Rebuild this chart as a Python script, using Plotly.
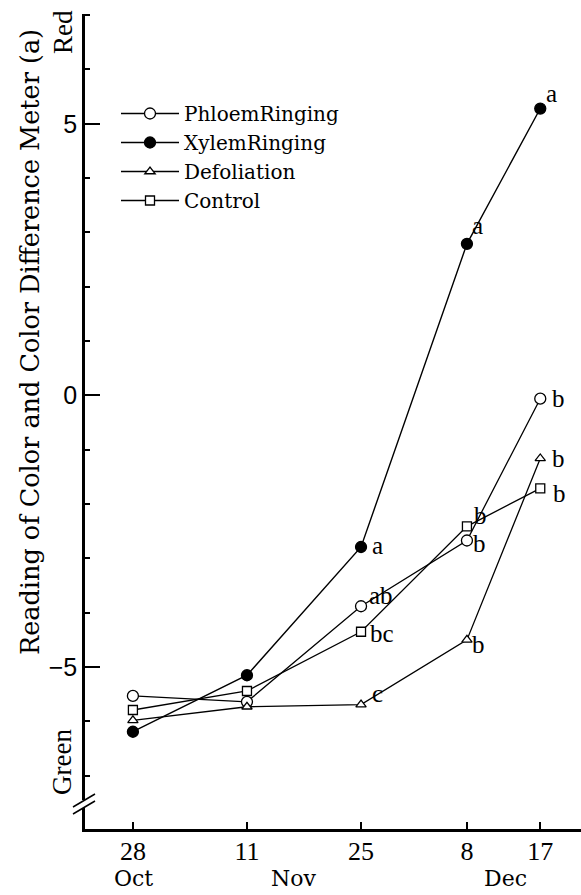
import plotly.graph_objects as go

# ---------------- data ----------------
days = [0, 14, 28, 41, 50]                 # days after 28 Oct
day_ticks = ["28", "11", "25", "8", "17"]
months = ["Oct", "Nov", "Dec"]

phloem = [-5.53, -5.64, -3.88, -2.67, -0.06]
xylem = [-6.19, -5.15, -2.79, 2.79, 5.28]
defoliation = [-5.98, -5.73, -5.69, -4.50, -1.16]
control = [-5.79, -5.44, -4.35, -2.41, -1.71]

phloem_sig = [None, None, "ab", "b", "b"]
xylem_sig = [None, None, "a", "a", "a"]
defoliation_sig = [None, None, "c", "b", "b"]
control_sig = [None, None, "bc", "b", "b"]

# ---------------- styling ----------------
SERIF = "DejaVu Serif"
TIMES = "Liberation Serif"
SANS = "Liberation Sans"

W, H = 581, 895
ML, MR, MT, MB = 85, 0, 14, 66
PW, PH = W - ML - MR, H - MT - MB


def px(xp):
    return (xp - ML) / PW


def py(yp):
    return (H - MB - yp) / PH


series = [
    ("PhloemRinging", phloem, phloem_sig, "circle", "white", 11,
     [None, None, (20, 11), (13, -3), (18, 0)]),
    ("XylemRinging", xylem, xylem_sig, "circle", "black", 11,
     [None, None, (16, 2), (11, 18), (11, 15)]),
    ("Defoliation", defoliation, defoliation_sig, "triangle-up", "white", 9,
     [None, None, (16, 11), (12, -5), (18, 0)]),
    ("Control", control, control_sig, "square", "white", 9,
     [None, None, (21, -2), (14, 11), (19, -5)]),
]

fig = go.Figure()
annotations = []
for name, vals, sig, sym, fill, size, offs in series:
    fig.add_trace(go.Scatter(
        x=days, y=vals, name=name, mode="lines+markers",
        line=dict(color="black", width=1.4 if fill == "black" else 1.3),
        marker=dict(symbol=sym, size=size, color=fill,
                    line=dict(color="black", width=1.3)),
    ))
    for i, s in enumerate(sig):
        if s is None:
            continue
        dx, dy = offs[i]
        annotations.append(dict(
            x=days[i], y=vals[i], xref="x", yref="y", text=s,
            showarrow=False, xshift=dx, yshift=dy,
            xanchor="center", yanchor="middle",
            font=dict(family=TIMES, size=25, color="black"),
        ))

# axis side texts
annotations += [
    dict(text="Reading of Color and Color Difference Meter (a)", xref="paper", yref="paper",
         x=px(30), y=py(342), textangle=-90, showarrow=False,
         xanchor="center", yanchor="middle",
         font=dict(family=SERIF, size=25.5, color="black")),
    dict(text="Red", xref="paper", yref="paper", x=px(63), y=py(32), textangle=-90,
         showarrow=False, xanchor="center", yanchor="middle",
         font=dict(family=TIMES, size=27, color="black")),
    dict(text="Green", xref="paper", yref="paper", x=px(62), y=py(762), textangle=-90,
         showarrow=False, xanchor="center", yanchor="middle",
         font=dict(family=TIMES, size=27, color="black")),
]
month_px = [133, 293, 505]
for m, mx in zip(months, month_px):
    annotations.append(dict(text=m, xref="paper", yref="paper", x=px(mx), y=py(878),
                            showarrow=False, xanchor="center", yanchor="middle",
                            font=dict(family=SERIF, size=22, color="black")))

# axis break marks
shapes = [
    dict(type="rect", xref="paper", yref="paper", x0=px(81), x1=px(90),
         y0=py(808), y1=py(800), fillcolor="white", line=dict(width=0), layer="above"),
    dict(type="line", xref="paper", yref="paper", x0=px(73), y0=py(807), x1=px(95), y1=py(794),
         line=dict(color="black", width=1.5), layer="above"),
    dict(type="line", xref="paper", yref="paper", x0=px(73), y0=py(814), x1=px(95), y1=py(801),
         line=dict(color="black", width=1.5), layer="above"),
]

fig.update_layout(
    width=W, height=H,
    margin=dict(l=ML, r=MR, t=MT, b=MB),
    paper_bgcolor="white", plot_bgcolor="white",
    showlegend=True,
    legend=dict(x=px(116), y=py(94), xanchor="left", yanchor="top",
                font=dict(family=SERIF, size=20, color="black"),
                bgcolor="rgba(0,0,0,0)", itemwidth=58),
    annotations=annotations,
    shapes=shapes,
    xaxis=dict(range=[-5.88, 55.0], tickmode="array", tickvals=days, ticktext=day_ticks,
               ticks="inside", ticklen=7, tickwidth=2, tickcolor="black",
               showline=True, linewidth=2.5, linecolor="black",
               showgrid=False, zeroline=False, ticklabelstandoff=-3,
               tickfont=dict(family=TIMES, size=26, color="black")),
    yaxis=dict(range=[-7.98, 7.02], tickmode="linear", tick0=0, dtick=5,
               ticks="inside", ticklen=15, tickwidth=2, tickcolor="black",
               minor=dict(dtick=1, tick0=0, ticks="inside", ticklen=5, tickwidth=1.5,
                          tickcolor="black", showgrid=False),
               showline=True, linewidth=2.5, linecolor="black",
               showgrid=False, zeroline=False, ticklabelstandoff=0,
               tickfont=dict(family=SANS, size=25, color="black")),
)

fig.write_html(
    "out.html",
    config={"displayModeBar": False},
    post_script="document.body.style.margin='0px';document.body.style.overflow='hidden';",
)
